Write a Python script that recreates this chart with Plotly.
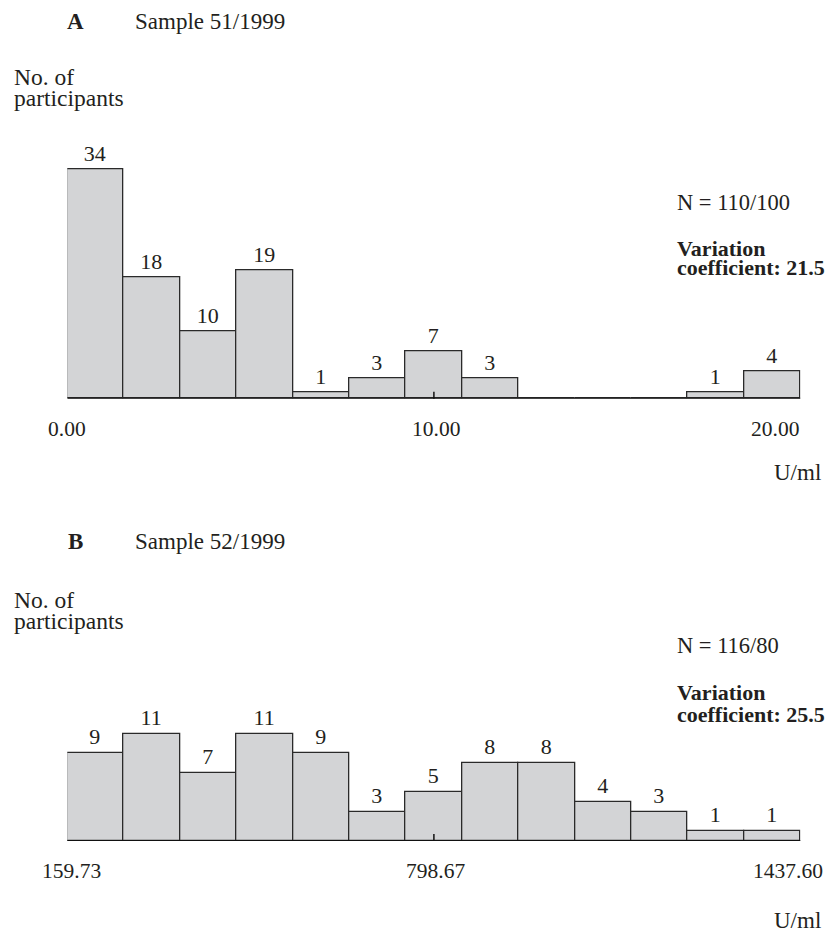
import numpy as np
import plotly.graph_objects as go

# Histogram counts per bin (13 equal-width bins from min to max)
counts_a = [34, 18, 10, 19, 1, 3, 7, 3, 0, 0, 0, 1, 4]
counts_b = [9, 11, 7, 11, 9, 3, 5, 8, 8, 4, 3, 1, 1]

# Axis limits (U/ml) and the printed tick labels
range_a = [0.00, 20.00]
range_b = [159.73, 1437.60]
ticks_a = ["0.00", "10.00", "20.00"]
ticks_b = ["159.73", "798.67", "1437.60"]

titles = ["Sample 51/1999", "Sample 52/1999"]
panel_letters = ["A", "B"]
n_texts = ["N = 110/100", "N = 116/80"]
cv_values = ["21.5", "25.5"]

W, H = 828, 934
FONT = "Liberation Serif, Times New Roman, serif"
INK = "#231f20"
FILL = "#d3d4d6"
EDGE = "#2a2a2a"


def px(x):
    return x / W


def py(y):
    return 1 - y / H


fig = go.Figure()

# pixel layout of each panel: baseline y, top of plotting area y
panels = [
    dict(counts=counts_a, rng=range_a, ticks=ticks_a, xa="x", ya="y",
         base=398.7, top=155.3, ymax=36, title_y=22, lab_y=(77, 98),
         n_y=203, cv_y=(248, 268), unit_y=472,
         end_shift=(0, -26)),
    dict(counts=counts_b, rng=range_b, ticks=ticks_b, xa="x2", ya="y2",
         base=841.0, top=724.0, ymax=12, title_y=541, lab_y=(600, 621),
         n_y=645, cv_y=(692, 714), unit_y=920,
         end_shift=(4, -13)),
]

x_left, x_right = 67.3, 800.5
annotations = []
shapes = []

for i, p in enumerate(panels):
    lo, hi = p["rng"]
    edges = np.linspace(lo, hi, len(p["counts"]) + 1)
    centers = (edges[:-1] + edges[1:]) / 2
    width = edges[1] - edges[0]
    labels = [str(c) if c > 0 else "" for c in p["counts"]]

    fig.add_trace(go.Bar(
        x=centers, y=p["counts"], width=width,
        xaxis=p["xa"], yaxis=p["ya"],
        marker=dict(color=FILL, line=dict(color=EDGE, width=1.3)),
        text=labels, textposition="outside", cliponaxis=False,
        constraintext="none",
        textfont=dict(family=FONT, size=22, color=INK),
        showlegend=False, hoverinfo="skip",
    ))

    xk = "xaxis" if i == 0 else "xaxis2"
    yk = "yaxis" if i == 0 else "yaxis2"
    fig.update_layout(**{
        xk: dict(domain=[px(x_left), px(x_right)], range=[lo, hi],
                 anchor=p["ya"], showline=False, showgrid=False,
                 zeroline=False, showticklabels=False, ticks=""),
        yk: dict(domain=[py(p["base"]), py(p["top"])], range=[0, p["ymax"]],
                 anchor=p["xa"], visible=False, showgrid=False,
                 zeroline=False),
    })

    # baseline of the histogram
    shapes.append(dict(
        type="line", xref=p["xa"], yref=p["ya"], x0=lo, x1=hi, y0=0, y1=0,
        line=dict(color="#111111", width=2), layer="above"))

    # axis values: min, midpoint (with tick mark), max
    mid = (lo + hi) / 2
    tick_x = [lo, mid, hi]
    shifts = [p["end_shift"][0], 2, p["end_shift"][1]]
    for xv, txt, sh in zip(tick_x, p["ticks"], shifts):
        annotations.append(dict(
            x=xv, y=0, xref=p["xa"], yref=p["ya"], text=txt,
            showarrow=False, xanchor="center", yanchor="middle",
            xshift=sh, yshift=-30,
            font=dict(family=FONT, size=21.5, color=INK)))
    shapes.append(dict(
        type="line", xref=p["xa"], yref=p["ya"], x0=mid, x1=mid,
        ysizemode="pixel", yanchor=0, y0=-7, y1=7,
        line=dict(color="#111111", width=1.5), layer="above"))

    title_font = dict(family=FONT, size=23, color=INK)
    cap_font = dict(family=FONT, size=23.5, color=INK)
    stat_font = dict(family=FONT, size=22, color=INK)
    # panel heading
    annotations.append(dict(x=px(75), y=py(p["title_y"]), xref="paper",
                            yref="paper", text="<b>%s</b>" % panel_letters[i],
                            showarrow=False, xanchor="center",
                            yanchor="middle", font=title_font))
    annotations.append(dict(x=px(133), y=py(p["title_y"]), xref="paper",
                            yref="paper", text=titles[i], showarrow=False,
                            xanchor="left", yanchor="middle", font=title_font))
    # y-axis caption
    for line, yy in zip(["No. of", "participants"], p["lab_y"]):
        annotations.append(dict(x=px(12), y=py(yy), xref="paper",
                                yref="paper", text=line, showarrow=False,
                                xanchor="left", yanchor="middle",
                                font=cap_font))
    # sample size and variation coefficient
    annotations.append(dict(x=px(675), y=py(p["n_y"]), xref="paper",
                            yref="paper", text=n_texts[i], showarrow=False,
                            xanchor="left", yanchor="middle",
                            font=dict(family=FONT, size=22.5, color=INK)))
    for line, yy in zip(["<b>Variation</b>",
                         "<b>coefficient: %s</b>" % cv_values[i]],
                        p["cv_y"]):
        annotations.append(dict(x=px(675), y=py(yy), xref="paper",
                                yref="paper", text=line, showarrow=False,
                                xanchor="left", yanchor="middle",
                                font=stat_font))
    # unit
    annotations.append(dict(x=px(823), y=py(p["unit_y"]), xref="paper",
                            yref="paper", text="U/ml", showarrow=False,
                            xanchor="right", yanchor="middle",
                            font=dict(family=FONT, size=23, color=INK)))

fig.update_layout(
    width=W, height=H, margin=dict(l=0, r=0, t=0, b=0),
    paper_bgcolor="white", plot_bgcolor="white",
    bargap=0, annotations=annotations, shapes=shapes,
    font=dict(family=FONT, color=INK),
)

fig.write_html("out.html")
